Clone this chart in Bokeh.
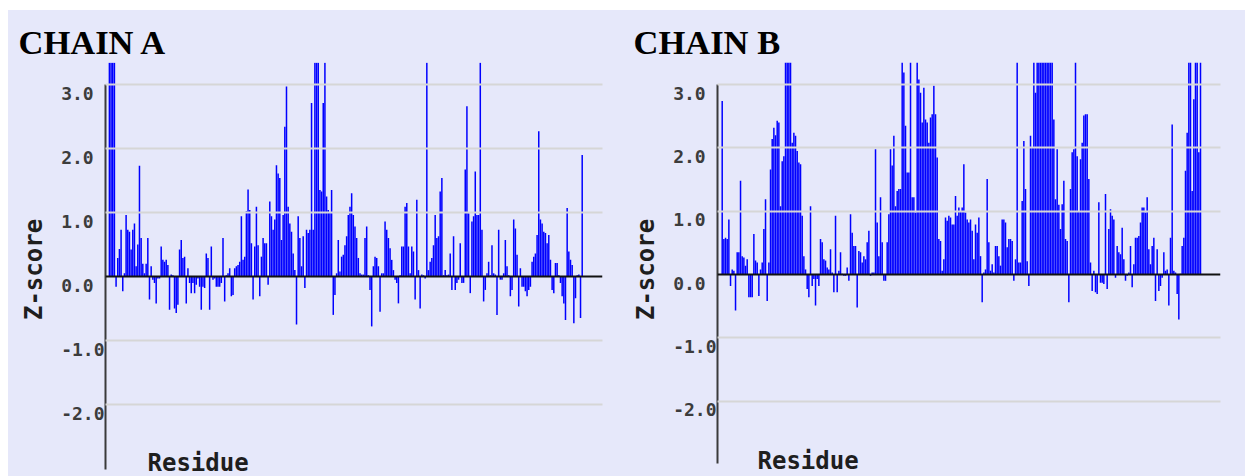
from bokeh.plotting import figure
from bokeh.models import Range1d, LinearAxis, FixedTicker, Span, Label, Title, Spacer
from bokeh.layouts import row, column
from bokeh.embed import file_html
from bokeh.resources import INLINE

# ---------------- data (Z-score per residue) ----------------
chain_a_z = [
    3.34, 3.34, 3.34, 3.34, -0.16, 0.29, 0.43, 0.73, -0.23, 0.05,
    0.96, 0.73, 0.70, 0.42, 0.73, 0.83, 0.16, 0.50, 1.73, 0.60,
    0.20, 0.05, 0.20, 0.60, -0.36, 0.16, -0.05, -0.10, -0.42, -0.03,
    -0.03, 0.47, 0.26, 0.23, 0.26, 0.18, -0.52, 0.03, 0.02, -0.50,
    -0.57, -0.44, 0.42, 0.57, 0.29, 0.31, -0.42, 0.13, -0.10, -0.26,
    -0.10, -0.26, -0.13, -0.03, -0.16, -0.52, -0.16, -0.18, 0.36, 0.29,
    -0.52, 0.47, -0.05, -0.03, -0.16, -0.16, -0.16, -0.10, 0.60, -0.39,
    0.02, 0.05, 0.13, -0.31, -0.29, 0.13, 0.16, 0.18, 0.23, 0.94,
    0.26, 0.31, 1.02, 1.36, 1.04, 0.52, -0.36, 0.47, 1.09, 0.49,
    -0.31, 0.31, 0.60, 0.52,
    0.52, -0.13, 1.17, 0.94, 0.73, 0.89, 1.74, 1.61, 1.54, 0.57,
    0.96, 2.34, 2.97, 1.09, 0.83, 0.70, 0.36, 0.10, -0.75, 0.94,
    0.60, 0.16, 0.63, -0.18, 0.73, 0.68, 0.73, 2.71, 0.73, 3.34,
    3.34, 3.34, 1.35, 1.33, 2.71, 3.34, 1.25, 1.04, 1.00, 1.35,
    -0.60, -0.29, 0.05, 0.57, 0.08, 0.31, 0.34, 0.49, 0.63, 0.96,
    1.09, 1.30, 0.96, 0.78, 0.60, 0.29, 0.05, 0.03, 0.03, 0.60,
    0.78, 0.02, -0.21, -0.78, 0.16, 0.31, 0.29, 0.16, -0.55, 0.05,
    0.05, 0.86, 0.73, 0.60, 0.44, 0.26, 0.10, -0.05, -0.10, -0.42,
    0.02, 0.47, 0.47, 1.09, 1.15, 0.47, 0.05, 0.47, 0.39, -0.36,
    1.20, 0.10, -0.50, 0.03, 0.02, -0.03, 3.34, 0.10, 0.23, 0.29,
    0.49, 0.96, 0.60, 0.63, 1.33, 1.54, 0.02, 0.10, 0.02, 0.03,
    0.36, -0.21, 0.63, -0.21, -0.10, -0.05, 0.52, -0.10, -0.10, 1.67,
    2.66, 0.99, -0.26, 0.86, 0.94, 1.64, 0.96, 0.96, 3.34, 0.73,
    -0.39, -0.21, 0.05, 0.23, 0.02, 0.49, 0.05, 0.03, -0.60, 0.73,
    -0.05, -0.05, 0.05, 0.57, 0.16, 0.02, -0.31, -0.21, 0.89, 0.75,
    0.34, -0.47, 0.13, -0.16, -0.16, -0.23, -0.31, -0.21, -0.16, 0.23,
    0.31, 0.36, 0.65, 2.27, 0.89, 0.83, 0.70, 0.68, 0.52, 0.65,
    0.26, -0.21, -0.26, 0.21, 0.21, 0.02, -0.10, -0.31, -0.42, -0.68,
    1.07, 0.39, 0.26, 0.18, -0.73, -0.34, 0.02, 0.03, -0.65, 1.90,
]

chain_b_z = [
    2.74, 0.56, 0.58, 0.56, 0.87, -0.18, 0.08, 0.06, -0.57, 0.35,
    0.35, 1.48, 0.29, 0.27, 0.14, 0.24, -0.36, -0.36, -0.36, 0.64,
    0.22, 0.19, -0.34, 0.08, 0.19, 0.72, 1.19, -0.42, 0.19, 1.66,
    2.14, 2.32, 2.20, 2.43, 2.40, 1.08, 1.79, 1.87, 3.35, 3.35,
    3.35, 3.35, 2.08, 2.24, 2.19, 1.95, 1.77, 1.74, 0.93, 0.29,
    0.08, -0.23, -0.36, 1.08, -0.18, -0.07, -0.49, -0.07, -0.18, 0.56,
    0.51, 0.24, 0.22, 0.11, 0.08, 0.40, 0.03, -0.28, 0.93, -0.28,
    0.06, 0.35, 0.01, -0.02, -0.02, 0.11, -0.10, 0.95, 0.66, 0.45,
    0.45, -0.52, 0.37, 0.35, 0.19, 0.29, 0.24, 0.51, 0.69, -0.02,
    0.03, 0.03, 1.98, 0.82, 0.29, 1.22, 0.51, -0.10,
    -0.10, 0.51, 0.95, 1.98, 1.72, 2.19, 1.08, 1.32, 1.35, 1.35,
    3.35, 3.19, 2.35, 1.61, 1.61, 3.35, 1.22, 1.22, 0.98, 3.35,
    3.08, 2.87, 2.40, 2.95, 2.45, 2.40, 2.08, 2.48, 2.53, 2.98,
    2.53, 1.85, 0.56, 0.53, 0.06, 0.24, 0.90, 0.85, 0.93, 0.90,
    0.79, 0.79, 1.24, 0.93, 1.06, 1.00, 1.06, 1.74, 0.98, 0.87,
    0.82, 0.87, 0.69, 0.24, 0.79, 0.66, 0.90, 0.29, -0.44, 0.03,
    0.08, 1.51, 0.51, 0.06, 0.16, 0.03, 0.45, 0.45, 0.29, 0.14,
    0.87, 0.87, 0.82, 0.43, 0.56, 0.56, 0.53, -0.10, 0.24, 3.35,
    0.19, 0.19, 1.16, 2.11, 1.35, 0.21, -0.18, 2.19, 2.01, 3.35,
    2.87, 3.35, 3.35, 3.35, 3.35, 3.35, 3.35, 3.35, 3.35,
    3.35, 3.35, 2.45, 1.19, 1.98, 1.10, 0.72, 1.11, 1.48, 0.56,
    0.53, -0.44, 1.35, 1.93, 1.98, 3.35, 1.87, 1.00, 1.82, 2.08,
    2.51, 2.53, 2.53, 1.51, 0.19, -0.26, 0.06, -0.28, -0.31, 1.14,
    -0.13, -0.13, -0.15, 1.27, -0.23, 0.72, 1.03, 0.93, 0.87, -0.05,
    0.45, 0.35, 0.32, 0.74, 0.24, -0.10, -0.02, 0.03, 0.45, -0.20,
    0.16, 0.58, 0.58, 0.61, 0.82, 1.06, 1.06, 0.98, 1.22, 0.40,
    0.16, 0.45, 0.58, -0.42, 0.40, -0.26, -0.18, -0.05, 0.35, 0.06,
    0.08, -0.49, 0.58, 2.37, 0.06, 0.03, -0.31, -0.71, 0.01, 0.45,
    0.58, 1.64, 2.24, 3.35, 3.35, 1.32, 2.77, 3.35, 3.35, 1.93,
    3.35,
]

panel_titles = ["CHAIN A", "CHAIN B"]
y_ticks = [-2, -1, 0, 1, 2, 3]
y_tick_labels = ["-2.0", "-1.0", "0.0", "1.0", "2.0", "3.0"]
grid_ticks = [-2, -1, 1, 2, 3]
y_title = "Z-score"
x_title = "Residue"

# ---------------- styling / layout (page pixels) ----------------
BG = "#e6e8fa"
BAR = "#0000ff"
MONO = "DejaVu Sans Mono"
FIG_TOP = 10
FIG_H = 466
FRAME_TOP, FRAME_BOTTOM = 62, FIG_TOP + FIG_H


def make_panel(title, z, fig_left, width, axis_px, axis_bottom_px, first_px, last_px,
               frame_right_px, zero_px, unit_px, title_px, xlab_px, xlab_base_px):
    n = len(z)
    step = (last_px - first_px) / (n - 1)
    x0 = 1 - (first_px - axis_px) / step
    x1 = n + (frame_right_px - last_px) / step
    y1 = (zero_px - FRAME_TOP) / unit_px
    y0 = (zero_px - FRAME_BOTTOM) / unit_px
    yb = (zero_px - axis_bottom_px) / unit_px

    p = figure(width=width, height=FIG_H,
               x_range=Range1d(x0, x1), y_range=Range1d(y0, y1),
               output_backend="svg", toolbar_location=None,
               x_axis_location=None, y_axis_location=None,
               min_border_left=axis_px - fig_left,
               min_border_right=fig_left + width - frame_right_px,
               min_border_top=FRAME_TOP - FIG_TOP, min_border_bottom=0)
    p.background_fill_color = BG
    p.border_fill_color = BG
    p.outline_line_color = None

    p.title = Title(text=title, align="left", offset=title_px - axis_px,
                    text_font="Liberation Serif", text_font_size="34.5px",
                    text_font_style="bold", text_color="black", standoff=4)

    # tick labels sit a little below their grid line -> shifted label range
    d = 8.5 / unit_px
    p.extra_y_ranges = {"lab": Range1d(y0 + d, y1 + d)}
    ax = LinearAxis(y_range_name="lab", ticker=FixedTicker(ticks=y_ticks),
                    bounds=(yb + d, 3 + d))
    ax.major_label_overrides = {t: (lab + "\u00a0" * (4 - len(lab)))
                                for t, lab in zip(y_ticks, y_tick_labels)}
    ax.axis_line_color = "#3a3a3a"
    ax.axis_line_width = 2
    ax.major_tick_line_color = None
    ax.minor_tick_line_color = None
    ax.major_tick_out = 0
    ax.major_tick_in = 0
    ax.major_label_standoff = 1
    ax.major_label_text_font = MONO
    ax.major_label_text_font_style = "bold"
    ax.major_label_text_font_size = "18px"
    ax.major_label_text_color = "#3c3c3c"
    ax.axis_label = y_title
    ax.axis_label_text_font = MONO
    ax.axis_label_text_font_style = "bold"
    ax.axis_label_text_font_size = "24px"
    ax.axis_label_text_color = "#1e1e1e"
    ax.axis_label_standoff = 10
    p.add_layout(ax, "left")

    p.xgrid.visible = False
    p.ygrid.ticker = FixedTicker(ticks=grid_ticks)
    p.ygrid.grid_line_color = "#d6d6d6"
    p.ygrid.grid_line_width = 2
    p.ygrid.level = "overlay"

    p.vbar(x=list(range(1, n + 1)), top=z, bottom=0, width=0.9,
           fill_color=BAR, line_color=None)

    p.add_layout(Span(location=0, dimension="width", line_color="#111111",
                      line_width=2, level="overlay"))

    p.add_layout(Label(x=1 + (xlab_px - first_px) / step,
                       y=(zero_px - xlab_base_px) / unit_px,
                       text=x_title, text_font=MONO, text_font_style="bold",
                       text_font_size="24px", text_color="#1e1e1e",
                       text_baseline="alphabetic"))
    return p


pa = make_panel(panel_titles[0], chain_a_z, fig_left=8, width=612, axis_px=105,
                axis_bottom_px=469, first_px=108.9, last_px=581.7,
                frame_right_px=602, zero_px=276, unit_px=64,
                title_px=18, xlab_px=147, xlab_base_px=462)
pb = make_panel(panel_titles[1], chain_b_z, fig_left=620, width=625, axis_px=717,
                axis_bottom_px=463, first_px=721.7, last_px=1200,
                frame_right_px=1220, zero_px=274, unit_px=63.3,
                title_px=633, xlab_px=757, xlab_base_px=460)

panels = row(pa, pb, spacing=0, styles={"background-color": BG})
layout = column(Spacer(height=FIG_TOP, width=10),
                row(Spacer(width=8, height=10), panels, spacing=0),
                spacing=0)
open("out.html", "w").write(file_html(layout, INLINE))
